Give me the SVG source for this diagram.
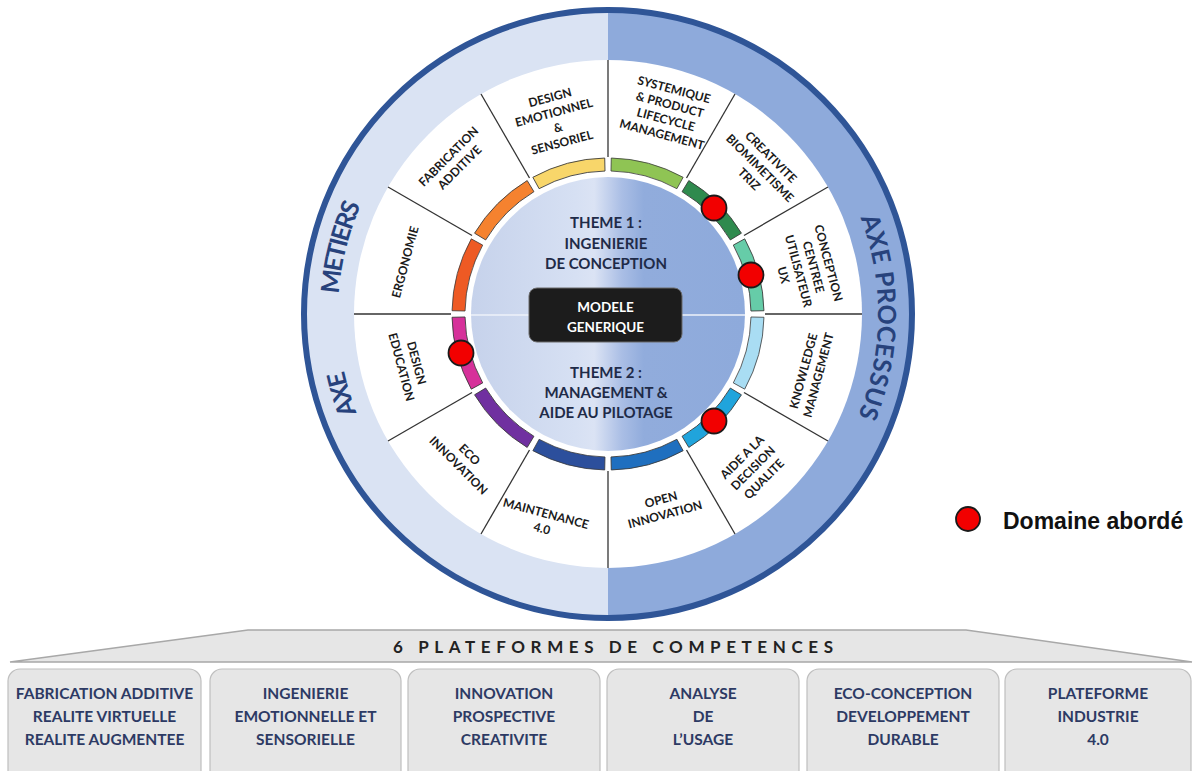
<svg xmlns="http://www.w3.org/2000/svg" width="1196" height="771" viewBox="0 0 1196 771">
<style>
.st{font-family:Lato,"Open Sans","Liberation Sans",sans-serif;font-weight:bold;font-size:12px;fill:#1a1a1a;text-anchor:middle}
.ct{font-family:Lato,"Open Sans","Liberation Sans",sans-serif;font-weight:bold;font-size:15px;fill:#1f2b48;text-anchor:middle}
.axe{font-family:Lato,"Open Sans","Liberation Sans",sans-serif;font-weight:bold;font-size:25px;fill:#27427c;text-anchor:middle}
.bx{fill:#e6e6e6;stroke:#bfbfbf;stroke-width:1.2}
.bt{font-family:Lato,"Open Sans","Liberation Sans",sans-serif;font-weight:bold;font-size:15.5px;fill:#2d3a64;text-anchor:middle}
.seg{stroke:#3a3a3a;stroke-width:0.8}
.div{stroke:#333;stroke-width:1.3}
.dot{fill:#f20000;stroke:#1a1a1a;stroke-width:1.8}
</style>
<defs>
<linearGradient id="inner" x1="0" y1="0" x2="1" y2="0">
<stop offset="0" stop-color="#c6d2eb"/>
<stop offset="0.38" stop-color="#d6e0f3"/>
<stop offset="0.45" stop-color="#dbe3f4"/>
<stop offset="0.55" stop-color="#aabee5"/>
<stop offset="0.63" stop-color="#91acdc"/>
<stop offset="1" stop-color="#8eaadb"/>
</linearGradient>
<path id="seg" d="M 3.27,-155.97 A 156 156 0 0 1 75.15,-136.70 L 68.89,-125.31 A 143 143 0 0 0 2.99,-142.97 Z"/>
<path id="arcL" d="M 608,584 A 270 270 0 0 1 608,44"/>
<path id="arcR" d="M 608,44 A 270 270 0 0 1 608,584"/>
</defs>

<g id="wheel-background">
<path d="M608,10 A304,304 0 0 0 608,618 Z" fill="#dae3f3"/>
<path d="M608,10 A304,304 0 0 1 608,618 Z" fill="#8eaadb"/>
<circle cx="608" cy="314" r="254" fill="#ffffff"/>
<circle cx="608" cy="314" r="304" fill="none" stroke="#2f5597" stroke-width="6"/>
</g>

<g id="axe-metiers">
<text class="axe"><textPath href="#arcL" startOffset="345" textLength="44">AXE</textPath></text>
<text class="axe"><textPath href="#arcL" startOffset="490" textLength="92">METIERS</textPath></text>
</g>
<g id="axe-processus">
<text class="axe"><textPath href="#arcR" startOffset="427" textLength="203">AXE PROCESSUS</textPath></text>
</g>

<g id="connectors">
<g transform="translate(608,314)">
<line class="div" x1="0" y1="-157" x2="0" y2="-254" transform="rotate(0)"/>
<line class="div" x1="0" y1="-157" x2="0" y2="-254" transform="rotate(30)"/>
<line class="div" x1="0" y1="-157" x2="0" y2="-254" transform="rotate(60)"/>
<line class="div" x1="0" y1="-157" x2="0" y2="-254" transform="rotate(90)"/>
<line class="div" x1="0" y1="-157" x2="0" y2="-254" transform="rotate(120)"/>
<line class="div" x1="0" y1="-157" x2="0" y2="-254" transform="rotate(150)"/>
<line class="div" x1="0" y1="-157" x2="0" y2="-254" transform="rotate(180)"/>
<line class="div" x1="0" y1="-157" x2="0" y2="-254" transform="rotate(210)"/>
<line class="div" x1="0" y1="-157" x2="0" y2="-254" transform="rotate(240)"/>
<line class="div" x1="0" y1="-157" x2="0" y2="-254" transform="rotate(270)"/>
<line class="div" x1="0" y1="-157" x2="0" y2="-254" transform="rotate(300)"/>
<line class="div" x1="0" y1="-157" x2="0" y2="-254" transform="rotate(330)"/>
</g>
</g>

<g id="seg-systemique">
<use href="#seg" class="seg" fill="#8fc454" transform="translate(608,314) rotate(0)"/>
<text class="st" transform="translate(668,112) rotate(15)"><tspan x="0" y="-19">SYSTEMIQUE</tspan><tspan x="0" y="-3.5">&amp; PRODUCT</tspan><tspan x="0" y="12">LIFECYCLE</tspan><tspan x="0" y="27.5">MANAGEMENT</tspan></text>
</g>
<g id="seg-creativite">
<use href="#seg" class="seg" fill="#2f8a4e" transform="translate(608,314) rotate(30)"/>
<text class="st" transform="translate(760,168) rotate(45)"><tspan x="0" y="-11.2">CREATIVITE</tspan><tspan x="0" y="4.3">BIOMIMETISME</tspan><tspan x="0" y="19.8">TRIZ</tspan></text>
</g>
<g id="seg-conception">
<use href="#seg" class="seg" fill="#66cca8" transform="translate(608,314) rotate(60)"/>
<text class="st" transform="translate(806,269) rotate(75)"><tspan x="0" y="-19">CONCEPTION</tspan><tspan x="0" y="-3.5">CENTREE</tspan><tspan x="0" y="12">UTILISATEUR</tspan><tspan x="0" y="27.5">UX</tspan></text>
</g>
<g id="seg-knowledge">
<use href="#seg" class="seg" fill="#a9ddf3" transform="translate(608,314) rotate(90)"/>
<text class="st" transform="translate(811,373) rotate(-75)"><tspan x="0" y="-3.5">KNOWLEDGE</tspan><tspan x="0" y="12">MANAGEMENT</tspan></text>
</g>
<g id="seg-aide">
<use href="#seg" class="seg" fill="#20a4dc" transform="translate(608,314) rotate(120)"/>
<text class="st" transform="translate(753,468) rotate(-45)"><tspan x="0" y="-11.2">AIDE A LA</tspan><tspan x="0" y="4.3">DECISION</tspan><tspan x="0" y="19.8">QUALITE</tspan></text>
</g>
<g id="seg-open">
<use href="#seg" class="seg" fill="#1f6fbf" transform="translate(608,314) rotate(150)"/>
<text class="st" transform="translate(663,507) rotate(-15)"><tspan x="0" y="-3.5">OPEN</tspan><tspan x="0" y="12">INNOVATION</tspan></text>
</g>
<g id="seg-maintenance">
<use href="#seg" class="seg" fill="#2c4f9c" transform="translate(608,314) rotate(180)"/>
<text class="st" transform="translate(544,521) rotate(15)"><tspan x="0" y="-3.5">MAINTENANCE</tspan><tspan x="0" y="12">4.0</tspan></text>
</g>
<g id="seg-eco">
<use href="#seg" class="seg" fill="#7030a0" transform="translate(608,314) rotate(210)"/>
<text class="st" transform="translate(464,460) rotate(45)"><tspan x="0" y="-3.5">ECO</tspan><tspan x="0" y="12">INNOVATION</tspan></text>
</g>
<g id="seg-design-education">
<use href="#seg" class="seg" fill="#d6319a" transform="translate(608,314) rotate(240)"/>
<text class="st" transform="translate(409,365) rotate(75)"><tspan x="0" y="-3.5">DESIGN</tspan><tspan x="0" y="12">EDUCATION</tspan></text>
</g>
<g id="seg-ergonomie">
<use href="#seg" class="seg" fill="#ee5a24" transform="translate(608,314) rotate(270)"/>
<text class="st" transform="translate(405,262) rotate(-75)"><tspan x="0" y="4.3">ERGONOMIE</tspan></text>
</g>
<g id="seg-fabrication">
<use href="#seg" class="seg" fill="#f5822f" transform="translate(608,314) rotate(300)"/>
<text class="st" transform="translate(454,162) rotate(-45)"><tspan x="0" y="-3.5">FABRICATION</tspan><tspan x="0" y="12">ADDITIVE</tspan></text>
</g>
<g id="seg-design-emotionnel">
<use href="#seg" class="seg" fill="#f8d66a" transform="translate(608,314) rotate(330)"/>
<text class="st" transform="translate(556,120) rotate(-15)"><tspan x="0" y="-19">DESIGN</tspan><tspan x="0" y="-3.5">EMOTIONNEL</tspan><tspan x="0" y="12">&amp;</tspan><tspan x="0" y="27.5">SENSORIEL</tspan></text>
</g>

<g id="center">
<circle cx="608" cy="314" r="137" fill="url(#inner)"/>
<line x1="471" y1="315" x2="745" y2="315" stroke="#eef2fa" stroke-width="1.5"/>
<text class="ct"><tspan x="606" y="228">THEME 1 :</tspan><tspan x="606" y="249">INGENIERIE</tspan><tspan x="606" y="269">DE CONCEPTION</tspan></text>
<text class="ct"><tspan x="606" y="378">THEME 2 :</tspan><tspan x="606" y="398">MANAGEMENT &amp;</tspan><tspan x="606" y="418">AIDE AU PILOTAGE</tspan></text>
</g>
<g id="modele-generique">
<rect x="529" y="288" width="153" height="54" rx="8" fill="#1c1c1c" stroke="#6b6b6b" stroke-width="1"/>
<text class="ct" style="fill:#ffffff;font-size:13.5px"><tspan x="605.5" y="312">MODELE</tspan><tspan x="605.5" y="332">GENERIQUE</tspan></text>
</g>

<g id="domaines-abordes">
<circle class="dot" cx="714" cy="208" r="12.5"/>
<circle class="dot" cx="751" cy="275" r="12.5"/>
<circle class="dot" cx="714" cy="421" r="12.5"/>
<circle class="dot" cx="461" cy="353" r="12.5"/>
</g>

<g id="legend">
<circle class="dot" cx="968" cy="519" r="12"/>
<text x="1003" y="529" font-family="'Liberation Sans',Arial,sans-serif" font-weight="bold" font-size="23" fill="#111">Domaine abordé</text>
</g>

<g id="banner">
<polygon points="10,662 248,630 966,630 1192,662" fill="#e6e6e6" stroke="#a8a8a8" stroke-width="1.5"/>
<text x="613" y="653" font-family="Lato,'Open Sans','Liberation Sans',sans-serif" font-weight="bold" font-size="17" fill="#222" text-anchor="middle" textLength="440" lengthAdjust="spacing">6 PLATEFORMES DE COMPETENCES</text>
</g>

<g id="plateforme-1">
<rect class="bx" x="8" y="669" width="193" height="115" rx="12"/>
<text class="bt"><tspan x="104.5" y="699">FABRICATION ADDITIVE</tspan><tspan x="104.5" y="722">REALITE VIRTUELLE</tspan><tspan x="104.5" y="745">REALITE AUGMENTEE</tspan></text>
</g>
<g id="plateforme-2">
<rect class="bx" x="210" y="669" width="191" height="115" rx="12"/>
<text class="bt"><tspan x="305.5" y="699">INGENIERIE</tspan><tspan x="305.5" y="722">EMOTIONNELLE ET</tspan><tspan x="305.5" y="745">SENSORIELLE</tspan></text>
</g>
<g id="plateforme-3">
<rect class="bx" x="408" y="669" width="192" height="115" rx="12"/>
<text class="bt"><tspan x="504" y="699">INNOVATION</tspan><tspan x="504" y="722">PROSPECTIVE</tspan><tspan x="504" y="745">CREATIVITE</tspan></text>
</g>
<g id="plateforme-4">
<rect class="bx" x="607" y="669" width="192" height="115" rx="12"/>
<text class="bt"><tspan x="703" y="699">ANALYSE</tspan><tspan x="703" y="722">DE</tspan><tspan x="703" y="745">L’USAGE</tspan></text>
</g>
<g id="plateforme-5">
<rect class="bx" x="807" y="669" width="192" height="115" rx="12"/>
<text class="bt"><tspan x="903" y="699">ECO-CONCEPTION</tspan><tspan x="903" y="722">DEVELOPPEMENT</tspan><tspan x="903" y="745">DURABLE</tspan></text>
</g>
<g id="plateforme-6">
<rect class="bx" x="1005" y="669" width="186" height="115" rx="12"/>
<text class="bt"><tspan x="1098" y="699">PLATEFORME</tspan><tspan x="1098" y="722">INDUSTRIE</tspan><tspan x="1098" y="745">4.0</tspan></text>
</g>
</svg>
